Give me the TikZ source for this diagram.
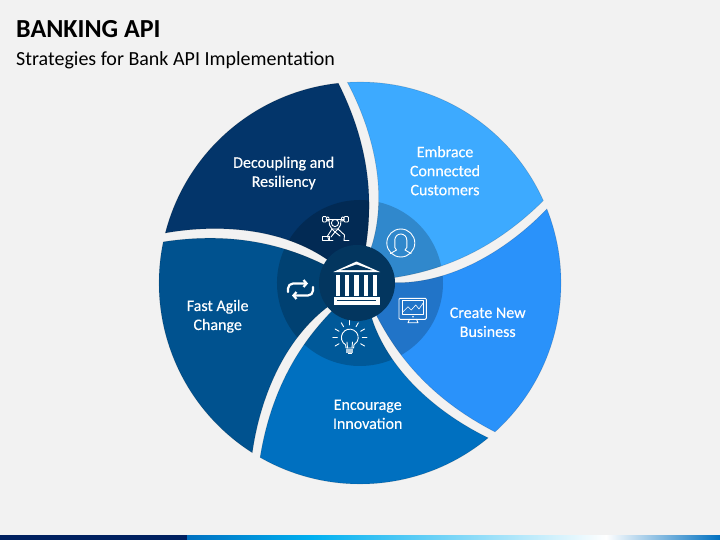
\documentclass[tikz,border=0pt]{standalone}
\usepackage{fontspec}
\setmainfont{Carlito}
\newfontfamily\labelfont[FakeBold=0.35]{Carlito}
\usetikzlibrary{arrows.meta, positioning, calc}
\definecolor{paper}{HTML}{F2F2F2}
\definecolor{c1}{HTML}{03356A}
\definecolor{c2}{HTML}{3DAAFF}
\definecolor{c3}{HTML}{2A92FA}
\definecolor{c4}{HTML}{0070C0}
\definecolor{c5}{HTML}{00528F}
\definecolor{hubcolor}{HTML}{03365F}
\definecolor{barnavy}{HTML}{002060}
\definecolor{barcyan}{HTML}{00B0F0}
\newcommand{\petalpath}{(165.3,233) .. controls (210,225) and (275,225) .. (325,258)
    -- (360,283) -- (366,245) .. controls (372,205) and (372,150) .. (338.3,83.2)
    arc[start angle=-96.2, end angle=-165.6, radius=201] -- cycle}

\begin{document}
\begin{tikzpicture}[
    x=1pt, y=-1pt,
    petal/.style={draw=black, draw opacity=0.15, line width=0.6pt},
    petallab/.style={font=\labelfont\fontsize{16}{19}\selectfont, text=white, align=center, inner sep=0pt},
    icon/.style={draw=white, line width=0.9pt, line cap=round, line join=round},
    thick icon/.style={draw=white, line width=2.2pt, line cap=round, line join=round},
    bankpart/.style={fill=white},
    title/.style={font=\fontsize{26}{28}\selectfont\bfseries, text=black, anchor=west, inner sep=0pt},
    subtitle/.style={font=\fontsize{20}{22}\selectfont, text=black, anchor=west, inner sep=0pt},
    hub/.style={circle, fill=hubcolor, minimum size=76pt, inner sep=0pt},
]
\useasboundingbox (0,0) rectangle (720,540);
\fill[paper] (0,0) rectangle (720,540);

% ---------------------------------------------------------------- bottom bar
\fill[barnavy] (0,535) rectangle (187,540);
\shade[left color=c4, right color=barcyan] (187,535) rectangle (312,540);
\shade[left color=barcyan, right color=white] (312,535) rectangle (606,540);
\shade[left color=white, right color=c4] (606,535) rectangle (720,540);

% ---------------------------------------------------------------- titles
\node[title] (head) at (16,29) {BANKING API};
\node[subtitle] (subhead) at (16,60.5) {Strategies for Bank API Implementation};

% ---------------------------------------------------------------- the petals
% one petal turned five times, the inner ring darkens each
\foreach \k/\col in {0/c1, 1/c2, 2/c3, 3/c4, 4/c5} {
    \begin{scope}[rotate around={-72*\k:(360,283)}]
        \fill[\col] \petalpath;
        \begin{scope}
            \clip \petalpath;
            \fill[black, opacity=0.2] (360,283) circle[radius=83];
        \end{scope}
        \draw[petal] \petalpath;
    \end{scope}
}

\node[hub] (bank) at (357,283) {};

% ---------------------------------------------------------------- labels
\node[petallab] (decoupling) at (283.7,173) {Decoupling and\\Resiliency};
\node[petallab] (embrace) at (445,170.7) {Embrace\\Connected\\Customers};
\node[petallab] (create) at (487.7,322.3) {Create New\\Business};
\node[petallab] (encourage) at (367.7,414.3) {Encourage\\Innovation};
\node[petallab] (fast) at (217.7,316.3) {Fast Agile\\Change};

% ---------------------------------------------------------------- bank
\fill[bankpart] (333.3,272) -- (356.5,261.5) -- (380,272) -- cycle;
\fill[hubcolor] (341,270) -- (356.5,264.5) -- (372,270) -- cycle;
\foreach \cx in {338,347,356.5,366,375} {
    \fill[bankpart] (\cx-2.4,274.5) rectangle (\cx+2.4,296);
}
\fill[bankpart] (333.5,297) rectangle (380,305);
\fill[hubcolor] (337,299.5) rectangle (376,301.2);

% ---------------------------------------------------------------- lifter
\draw[icon] (326,219) -- (344,219);
\draw[icon, rounded corners=1pt] (322.5,216.5) rectangle (326.5,222);
\draw[icon, rounded corners=1pt] (326.5,217) rectangle (329,221);
\draw[icon, rounded corners=1pt] (344,216.5) rectangle (348.5,222);
\draw[icon, rounded corners=1pt] (341.5,217) rectangle (344,221);
\draw[icon] (335,223) circle[radius=3.6];
\draw[icon] (329,220) -- (329.5,225) -- (332,229) -- (338,229) -- (340.5,225) -- (341,220);
\draw[icon] (332,229) -- (335,232) -- (338,229);
\draw[icon] (332,229) -- (327.5,236) -- (329,240.5);
\draw[icon] (338,229) -- (344.5,235) -- (344,240.5) -- (349,240.5);
\draw[icon] (335,232) -- (331,237);
\draw[icon] (335,232) -- (340,236);
\draw[icon] (322.5,240.5) rectangle (329,236.5);
\draw[icon] (329,240.5) -- (333,240.5);

% ---------------------------------------------------------------- person
\draw[icon] (400.8,243) circle[radius=14];
\draw[icon] (390.5,253.5) -- (396.5,250) -- (394.8,247.5) -- (394.8,240)
    arc[start angle=-180, end angle=0, radius=6] -- (406.8,247.5) -- (405,250) -- (411,253.5);

% ---------------------------------------------------------------- screen
\draw[icon, rounded corners=1pt] (399,298.3) rectangle (426.3,319.3);
\draw[icon, line width=0.6pt] (402.3,300.7) rectangle (423,314);
\draw[icon, line width=0.6pt] (403,311.7) -- (408,306.7) -- (411.3,310) -- (415.7,305)
    -- (419,309) -- (423,303.3);
\fill[white] (413,316.7) circle[radius=0.9];
\draw[icon] (409.5,319.3) -- (408,322.7) -- (418,322.7) -- (416.5,319.3);

% ---------------------------------------------------------------- bulb
\draw[icon] (346,348) -- (345.6,344.8) arc[start angle=120, end angle=420, radius=8.4]
    -- (353.6,348) -- cycle;
\draw[icon] (347.5,348) -- (347,342);
\draw[icon] (352,348) -- (352.5,342);
\fill[white, opacity=0.7] (345.8,348.5) rectangle (353.2,352.5);
\fill[white] (347.5,352.5) rectangle (351.5,354);
\foreach \a in {30,0,-30,-60,-90,-120,-150,-180,-210} {
    \draw[icon] ($(349.8,337.5)+(\a:12.5)$) -- ($(349.8,337.5)+(\a:17)$);
}

% ---------------------------------------------------------------- swap
\draw[thick icon, -{Straight Barb[length=3pt, width=7pt]}, rounded corners=5pt]
    (288,292) -- (288,283.5) -- (308,283.5);
\draw[thick icon, -{Straight Barb[length=3pt, width=7pt]}, rounded corners=5pt]
    (313,287) -- (313,295.5) -- (292,295.5);

\end{tikzpicture}
\end{document}
